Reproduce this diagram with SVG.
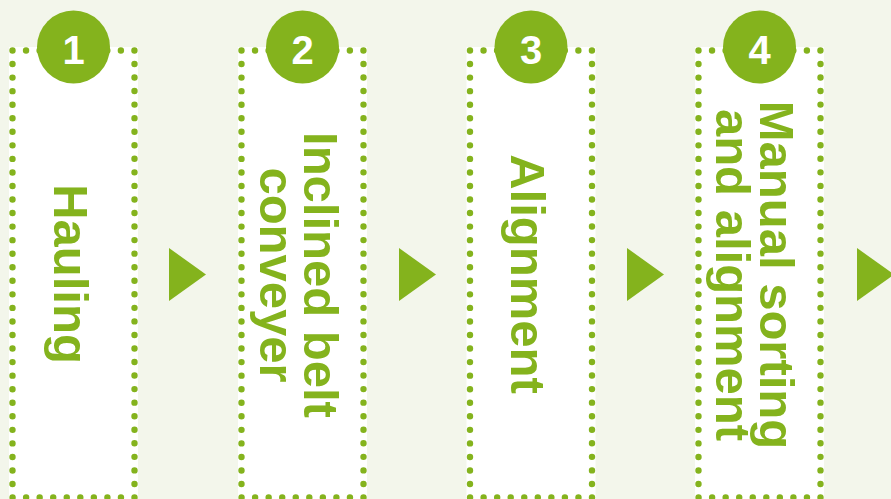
<svg xmlns="http://www.w3.org/2000/svg" width="891" height="499" viewBox="0 0 891 499">
<style>
.box{fill:#ffffff;}
.dots{fill:none;stroke:#84b31d;stroke-width:6.4;stroke-linecap:round;stroke-dasharray:0 1;}
.badge{fill:#84b31d;}
.num{fill:#ffffff;font-family:"Liberation Sans",Arial,sans-serif;font-weight:bold;font-size:40px;text-anchor:middle;}
.lbl{fill:#84b31d;font-family:"Liberation Sans",Arial,sans-serif;font-weight:bold;font-size:49px;text-anchor:middle;}
.arrow{fill:#84b31d;}
</style>
<rect x="0" y="0" width="891" height="499" fill="#f3f6eb"/>
<g id="node1">
<rect class="box" x="9" y="47" width="129" height="460"/>
<rect class="dots" x="12.5" y="50.5" width="122" height="447" pathLength="84"/>
<circle class="badge" cx="73.5" cy="47" r="36.5"/>
<text class="num" x="73.5" y="64">1</text>
<text class="lbl" transform="translate(54,274) rotate(90)">Hauling</text>
</g>
<g id="node2">
<rect class="box" x="238" y="47" width="129" height="460"/>
<rect class="dots" x="241.5" y="50.5" width="122" height="447" pathLength="84"/>
<circle class="badge" cx="302.5" cy="47" r="36.5"/>
<text class="num" x="302.5" y="64">2</text>
<text class="lbl" transform="translate(304,275) rotate(90)"><tspan x="0" y="0">Inclined belt</tspan><tspan x="0" y="44">conveyer</tspan></text>
</g>
<g id="node3">
<rect class="box" x="466.5" y="47" width="129" height="460"/>
<rect class="dots" x="470" y="50.5" width="122" height="447" pathLength="84"/>
<circle class="badge" cx="531" cy="47" r="36.5"/>
<text class="num" x="531" y="64">3</text>
<text class="lbl" transform="translate(511,274) rotate(90)">Alignment</text>
</g>
<g id="node4">
<rect class="box" x="695" y="47" width="129" height="460"/>
<rect class="dots" x="698.5" y="50.5" width="122" height="447" pathLength="84"/>
<circle class="badge" cx="759.5" cy="47" r="36.5"/>
<text class="num" x="759.5" y="64">4</text>
<text class="lbl" transform="translate(760,275) rotate(90)"><tspan x="0" y="0">Manual sorting</tspan><tspan x="0" y="44">and alignment</tspan></text>
</g>
<g id="connectors">
<polygon class="arrow" points="169,248 206,274.5 169,301"/>
<polygon class="arrow" points="399,248 436,274.5 399,301"/>
<polygon class="arrow" points="627,248 664,274.5 627,301"/>
<polygon class="arrow" points="857,248 894,274.5 857,301"/>
</g>
</svg>
